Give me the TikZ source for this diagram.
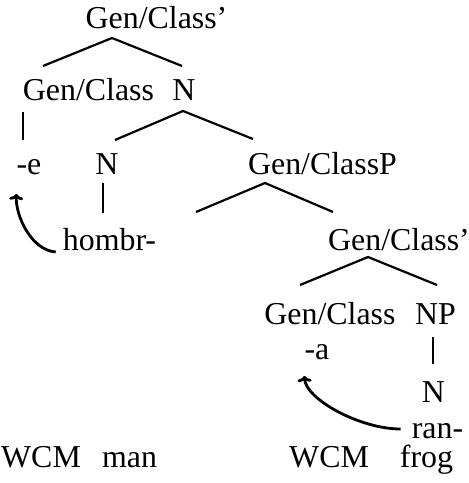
\documentclass[tikz,border=0pt]{standalone}
\usepackage{fontspec}
\setmainfont{Liberation Serif}
\usepackage{xcolor}
\usepackage{tikz}
\usetikzlibrary{arrows.meta}
\definecolor{ink}{HTML}{000000}

\tikzset{
  lab/.style={ink, font=\fontsize{32}{36}\selectfont, inner sep=0pt, anchor=base},
  branch/.style={ink, line width=2.2bp},
  move/.style={ink, line width=2.8bp, -{To[length=6bp,width=14bp]}}
}

\begin{document}
\begin{tikzpicture}[x=1bp, y=-1bp]
    \useasboundingbox (0,0) rectangle (469,483);

    % labels, row by row
    \node[lab] (gcbar)  at (156.5,29) {Gen/Class'};
    \node[lab] (gc)     at (88.5,101) {Gen/Class};
    \node[lab] (nbar)   at (184,101)  {N};
    \node[lab] (e)      at (29,175)   {-e};
    \node[lab] (n)      at (107,175)  {N};
    \node[lab] (gcp)    at (322.5,175) {Gen/ClassP};
    \node[lab] (hombr)  at (109.5,250) {hombr-};
    \node[lab] (gcbarb) at (399,250)  {Gen/Class'};
    \node[lab] (gcb)    at (330,324)  {Gen/Class};
    \node[lab] (np)     at (435.5,324) {NP};
    \node[lab] (a)      at (317,359)  {-a};
    \node[lab] (nb)     at (433.5,402) {N};
    \node[lab] (ran)    at (437.5,438) {ran-};
    \node[lab] (wcma)   at (41,467)   {WCM};
    \node[lab] (man)    at (129.5,467) {man};
    \node[lab] (wcmb)   at (329,467)  {WCM};
    \node[lab] (frog)   at (426.5,467) {frog};

    % branch points
    \coordinate (gcbar-v) at (112,38);
    \coordinate (gcbar-l) at (43,66);
    \coordinate (gcbar-r) at (182,66);
    \coordinate (nbar-v) at (183,111);
    \coordinate (nbar-l) at (115,140);
    \coordinate (nbar-r) at (253,139);
    \coordinate (gcp-v) at (265,183);
    \coordinate (gcp-l) at (196,212);
    \coordinate (gcp-r) at (333,212);
    \coordinate (gcbarb-v) at (368,257);
    \coordinate (gcbarb-l) at (300,285);
    \coordinate (gcbarb-r) at (437,285);

    \draw[branch] (gcbar-l) -- (gcbar-v) -- (gcbar-r);
    \draw[branch] (nbar-l) -- (nbar-v) -- (nbar-r);
    \draw[branch] (gcp-l) -- (gcp-v) -- (gcp-r);
    \draw[branch] (gcbarb-l) -- (gcbarb-v) -- (gcbarb-r);

    % unary branches
    \draw[branch] ([shift={(-65.5,11)}]gc.base) -- ([shift={(-6,-35)}]e.base);
    \draw[branch] ([shift={(-4,8)}]n.base) -- ([shift={(-4,38)}]n.base);
    \draw[branch] ([shift={(-2.5,13)}]np.base) -- ([shift={(-2.5,40)}]np.base);

    % head movement
    \draw[move] ([shift={(-7,2)}]hombr.base west)
        .. controls +(-25,-2) and +(-1,21) .. ([shift={(0,19)}]e.base west);
    \draw[move] ([shift={(-11,-9)}]ran.base west)
        .. controls +(-41,0) and +(1,23) .. ([shift={(0,17)}]a.base west);
  \end{tikzpicture}
\end{document}
